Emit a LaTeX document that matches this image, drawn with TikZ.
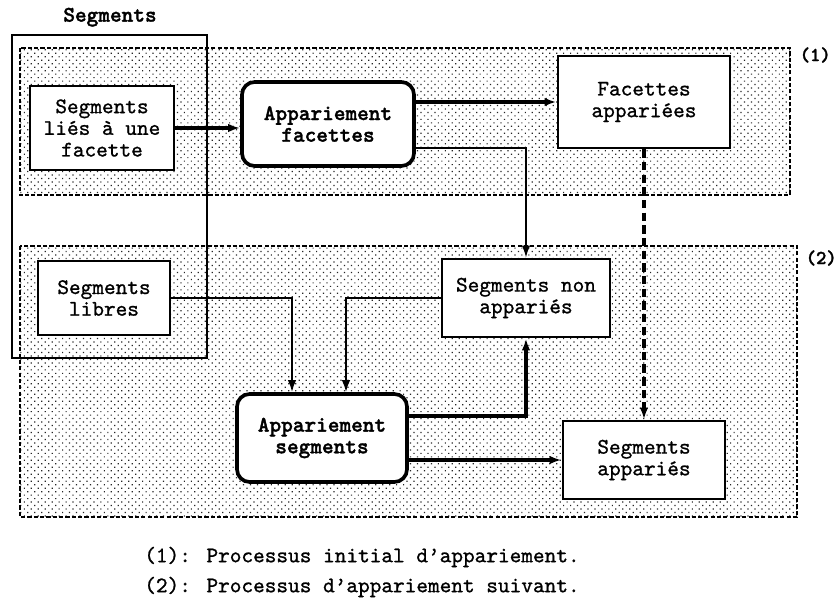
\documentclass[tikz,border=0pt]{standalone}
\usepackage{fontspec}
\newfontfamily\boxfont{lmmono10-regular.otf}[FakeBold=1]
\newfontfamily\procfont{lmmonolt10-bold.otf}[FakeBold=1.5]
\usepackage{tikz}
\usetikzlibrary{arrows.meta, positioning, patterns.meta}

\begin{document}
\begin{tikzpicture}

\tikzset{box/.style = {shape=rectangle,draw,fill=white,line width=2pt,align=center,inner sep=0pt,font=\fontsize{15.8}{15.4}\selectfont\boxfont}}
\tikzset{proc/.style = {box,rounded corners=9pt,line width=2.6pt,font=\fontsize{15.8}{15.4}\selectfont\procfont}}
\tikzset{zone/.style = {draw,line width=1.8pt,dash pattern=on 3pt off 1.5pt,pattern={Dots[distance=3.5pt,radius=0.6pt,angle=45]},pattern color=black!85}}
\tikzset{flow/.style = {-{Latex[length=8.5pt,width=6pt]},line width=2.2pt}}
\tikzset{thin flow/.style = {flow,line width=1.3pt}}
\tikzset{note/.style = {anchor=west,inner sep=0pt,font=\fontsize{15.8}{15.4}\selectfont\boxfont}}
\tikzset{tag/.style = {font=\fontsize{14}{14}\selectfont\procfont}}
\useasboundingbox (0,0) rectangle (20.925,-15.075);
% zones
\draw[zone] (0.5,-1.2) rectangle (19.75,-4.875);
\draw[zone] (0.5,-6.15) rectangle (19.925,-12.925);
\node[tag] (tag1) at (20.38,-1.375) {(1)};
\node[tag] (tag2) at (20.53,-6.45) {(2)};
% segments group
\draw[line width=1.4pt] (0.3,-0.875) rectangle (5.175,-8.95);
\node[tag, font=\fontsize{15.8}{15.4}\selectfont\procfont] (group) at (2.75,-0.43) {Segments};
% boxes
\node[box, minimum width=3.6cm, minimum height=2.1cm] (lies) at (2.55,-3.2) {Segments\\liés à une\\facette};
\node[proc, minimum width=4.3cm, minimum height=2.1cm] (appFac) at (8.2,-3.1) {Appariement\\facettes};
\node[box, minimum width=4.3cm, minimum height=2.3cm] (facApp) at (16.1,-2.55) {Facettes\\appariées};
\node[box, minimum width=3.3cm, minimum height=1.85cm] (libres) at (2.6,-7.45) {Segments\\libres};
\node[box, minimum width=4.2cm, minimum height=1.95cm] (nonApp) at (13.15,-7.45) {Segments non\\appariés};
\node[proc, minimum width=4.25cm, minimum height=2.2cm] (appSeg) at (8.05,-10.95) {Appariement\\segments};
\node[box, minimum width=4.05cm, minimum height=1.95cm] (segApp) at (16.1,-11.5) {Segments\\appariés};
%edges
\draw[flow] (lies.east) -- (lies.east -| appFac.west);
\draw[flow] (appFac.east |- facApp) -- (facApp.west);
\draw[thin flow] ([yshift=-0.6cm]appFac.east) -| (nonApp.north);
\draw[flow, dash pattern=on 6pt off 3pt] (facApp.south) -- (segApp.north);
\draw[thin flow] (libres.east) -| ([xshift=-0.75cm]appSeg.north);
\draw[thin flow] (nonApp.west) -| ([xshift=0.6cm]appSeg.north);
\draw[flow] ([yshift=0.55cm]appSeg.east) -| (nonApp.south);
\draw[flow] (appSeg.east |- segApp) -- (segApp.west);
% notes
\node[note] (note1) at (3.6,-13.925) {(1): Processus initial d’appariement.};
\node[note] (note2) at (3.6,-14.675) {(2): Processus d’appariement suivant.};
\end{tikzpicture}
\end{document}
